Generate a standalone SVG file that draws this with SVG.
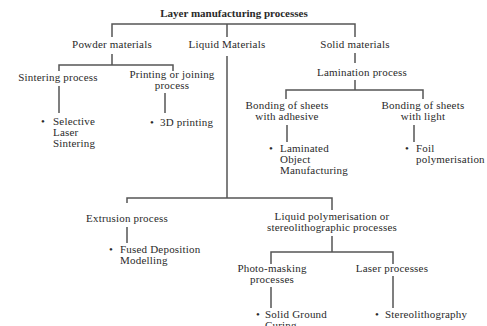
<svg xmlns="http://www.w3.org/2000/svg" width="487" height="326" viewBox="0 0 487 326">
<style>
text{font-family:"Liberation Serif","Times New Roman",serif;font-size:11px;letter-spacing:0.2px;fill:#2a2a2a}
.t{font-weight:bold;letter-spacing:0}
.c{text-anchor:middle}
.ln{fill:none;stroke:#555;stroke-width:1.5}
</style>
<rect width="487" height="326" fill="#fff"/>
<g id="connectors" class="ln">
<path d="M112,37V24H355V37M227,24V37"/>
<path d="M227,56V198M127,203V198H332V210"/>
<path d="M112,54V65M59,71V65H173V71"/>
<path d="M59,86V113M165,93V113"/>
<path d="M355,53V63M355,80V90M286,99V90H423V99"/>
<path d="M287,125V142M414,125V142"/>
<path d="M127,227V243"/>
<path d="M332,236V252M271,264V252H393V264"/>
<path d="M271,287V308M393,276V308"/>
</g>
<g id="title"><text class="t c" x="234" y="17">Layer manufacturing processes</text></g>
<g id="powder"><text class="c" x="112" y="48">Powder materials</text></g>
<g id="liquid"><text class="c" x="227" y="48">Liquid Materials</text></g>
<g id="solid"><text class="c" x="355" y="48">Solid materials</text></g>
<g id="sintering"><text class="c" x="58" y="81">Sintering process</text></g>
<g id="printing"><text class="c" x="172" y="78">Printing or joining</text><text class="c" x="172" y="89">process</text></g>
<g id="sls"><text x="41" y="125">•</text><text x="53" y="125">Selective</text><text x="53" y="136">Laser</text><text x="53" y="147">Sintering</text></g>
<g id="3dp"><text x="150" y="126">•</text><text x="160" y="126">3D printing</text></g>
<g id="lamination"><text class="c" x="362" y="76">Lamination process</text></g>
<g id="adhesive"><text class="c" x="287" y="109">Bonding of sheets</text><text class="c" x="287" y="120">with adhesive</text></g>
<g id="light"><text class="c" x="423" y="109">Bonding of sheets</text><text class="c" x="423" y="120">with light</text></g>
<g id="lom"><text x="269" y="152">•</text><text x="280" y="152">Laminated</text><text x="280" y="163">Object</text><text x="280" y="174">Manufacturing</text></g>
<g id="foil"><text x="405" y="152">•</text><text x="416" y="152">Foil</text><text x="416" y="163">polymerisation</text></g>
<g id="extrusion"><text class="c" x="127" y="222">Extrusion process</text></g>
<g id="fdm"><text x="109" y="253">•</text><text x="120" y="253">Fused Deposition</text><text x="120" y="264">Modelling</text></g>
<g id="liqpoly"><text class="c" x="332" y="220">Liquid polymerisation or</text><text class="c" x="332" y="231">stereolithographic processes</text></g>
<g id="photomask"><text class="c" x="272" y="272">Photo-masking</text><text class="c" x="272" y="283">processes</text></g>
<g id="laser"><text class="c" x="392" y="272">Laser processes</text></g>
<g id="sgc"><text x="256" y="318">•</text><text x="265" y="318">Solid Ground</text><text x="265" y="329">Curing</text></g>
<g id="sla"><text x="375" y="318">•</text><text x="385" y="318">Stereolithography</text></g>
</svg>
